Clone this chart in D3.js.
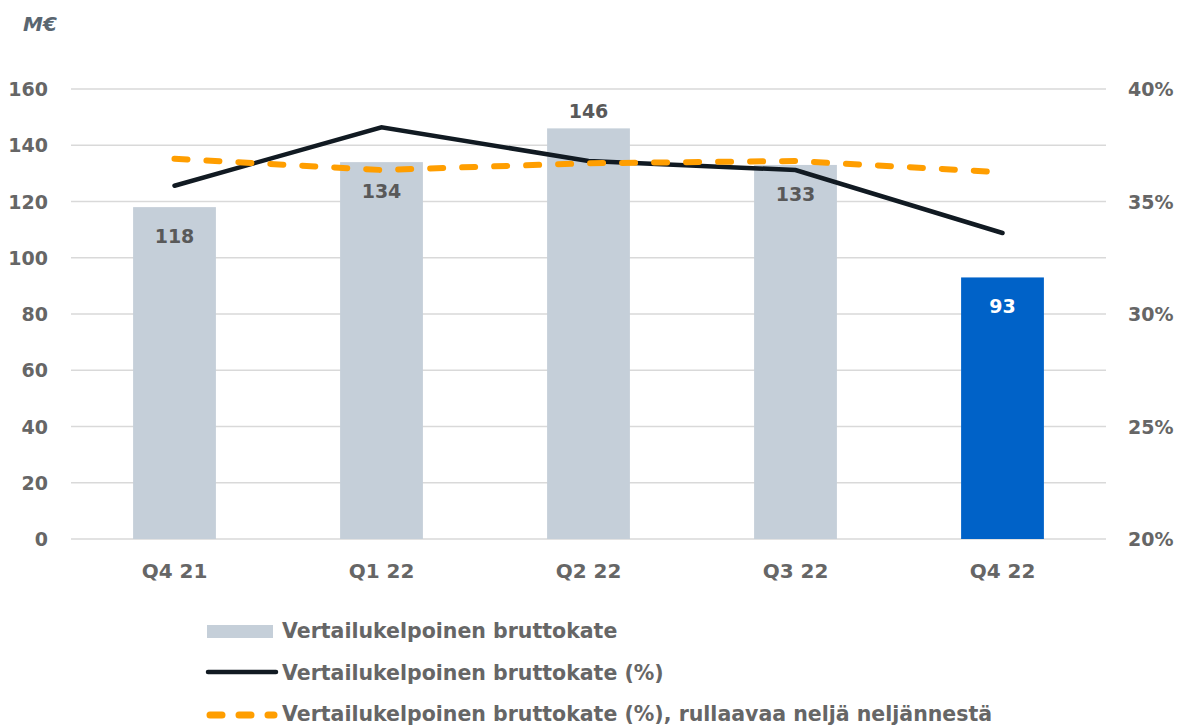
<!DOCTYPE html>
<html><head><meta charset="utf-8">
<script src="https://cdn.jsdelivr.net/npm/d3@7"></script>
<style>
body{margin:0;background:#fff;}
text{font-family:"DejaVu Sans",sans-serif;font-weight:700;}
</style></head>
<body><svg id="c" width="1179" height="728"></svg>
<script>
const categories = ["Q4 21","Q1 22","Q2 22","Q3 22","Q4 22"];
const barValues = [118,134,146,133,93];
const marginPct = [35.7,38.3,36.8,36.4,33.6];
const rollingPct = [36.9,36.4,36.7,36.8,36.3];
const leftTicks = [0,20,40,60,80,100,120,140,160];
const rightTicks = [20,25,30,35,40];
const legendLabels = ["Vertailukelpoinen bruttokate","Vertailukelpoinen bruttokate (%)","Vertailukelpoinen bruttokate (%), rullaavaa neljä neljännestä"];

const svg = d3.select("#c");
const L=71, R=1106, T=89, B=539;
const x = d3.scaleBand().domain(categories).range([L,R]).paddingInner(0.6).paddingOuter(0.3);
const y = d3.scaleLinear().domain([0,160]).range([B,T]);
const y2 = d3.scaleLinear().domain([20,40]).range([B,T]);
const txt="#666666";
const fs=19;

// gridlines
svg.append("g").selectAll("line").data(leftTicks).join("line")
  .attr("x1",L).attr("x2",R).attr("y1",d=>y(d)).attr("y2",d=>y(d))
  .attr("stroke","#d9d9d9").attr("stroke-width",1.5);

// left axis
const la = svg.append("g").attr("transform",`translate(${L-23},0)`)
  .call(d3.axisLeft(y).tickValues(leftTicks).tickSize(0).tickPadding(0));
la.select(".domain").remove();
la.selectAll("text").attr("fill",txt).attr("font-size",fs).attr("dy","0.35em");

// right axis
const ra = svg.append("g").attr("transform",`translate(${R+22},0)`)
  .call(d3.axisRight(y2).tickValues(rightTicks).tickFormat(d=>d+"%").tickSize(0).tickPadding(0));
ra.select(".domain").remove();
ra.selectAll("text").attr("fill",txt).attr("font-size",fs).attr("dy","0.35em");

// x axis
const xa = svg.append("g").attr("transform",`translate(0,${B+32})`)
  .call(d3.axisBottom(x).tickSize(0).tickPadding(0));
xa.select(".domain").remove();
xa.selectAll("text").attr("fill",txt).attr("font-size",fs+1).attr("dy","0.35em");

// bars
const last = categories.length-1;
svg.append("g").selectAll("rect").data(barValues).join("rect")
  .attr("x",(d,i)=>x(categories[i])).attr("width",x.bandwidth())
  .attr("y",d=>y(d)).attr("height",d=>B-y(d))
  .attr("fill",(d,i)=>i===last?"#0062c8":"#c5cfd9");

// bar labels
svg.append("g").selectAll("text").data(barValues).join("text")
  .attr("x",(d,i)=>x(categories[i])+x.bandwidth()/2)
  .attr("y",(d,i)=>i===2?y(d)-10:y(d)+36)
  .attr("text-anchor","middle").attr("font-size",fs)
  .attr("fill",(d,i)=>i===last?"#ffffff":"#595959")
  .text(d=>d);

// lines
const cx = i=>x(categories[i])+x.bandwidth()/2;
const line = d3.line().x((d,i)=>cx(i)).y(d=>y2(d));
svg.append("path").datum(marginPct).attr("d",line)
  .attr("fill","none").attr("stroke","#111a22").attr("stroke-width",4.5).attr("stroke-linecap","round");
svg.append("path").datum(rollingPct).attr("d",line)
  .attr("fill","none").attr("stroke","#ff9e00").attr("stroke-width",6)
  .attr("stroke-linecap","round").attr("stroke-dasharray","13,19");

// M€ label
svg.append("text").attr("x",23).attr("y",31).attr("fill","#5a6670")
  .attr("font-size",20).attr("font-style","italic").text("M€");

// legend
const lg = svg.append("g");
const ly=[631,673,714];
lg.append("rect").attr("x",207).attr("y",ly[0]-6).attr("width",66).attr("height",13).attr("fill","#c5cfd9");
lg.append("line").attr("x1",208).attr("x2",276).attr("y1",ly[1]-1).attr("y2",ly[1]-1)
  .attr("stroke","#111a22").attr("stroke-width",4.5).attr("stroke-linecap","round");
lg.append("line").attr("x1",210).attr("x2",274).attr("y1",ly[2]+1).attr("y2",ly[2]+1)
  .attr("stroke","#ff9e00").attr("stroke-width",7).attr("stroke-linecap","round").attr("stroke-dasharray","12,17");
lg.selectAll("text").data(legendLabels).join("text")
  .attr("x",282).attr("y",(d,i)=>ly[i]).attr("dy","0.35em")
  .attr("fill",txt).attr("font-size",20.5).text(d=>d);
</script></body></html>
